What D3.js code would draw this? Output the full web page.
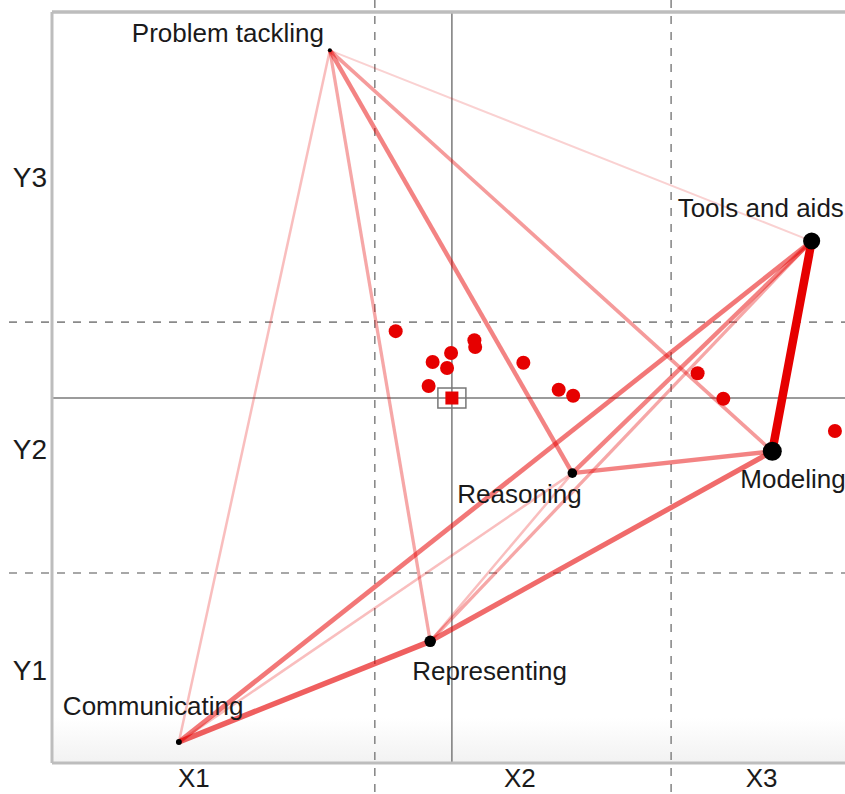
<!DOCTYPE html>
<html>
<head>
<meta charset="utf-8">
<script src="https://cdn.jsdelivr.net/npm/d3@7"></script>
<style>
  html, body { margin: 0; padding: 0; background: #fff; }
  svg { display: block; font-family: "Liberation Sans", Arial, Helvetica, sans-serif; }
</style>
</head>
<body>
<svg id="chart" width="845" height="794"></svg>
<script>
// ---- data ----
const nodeNames = ["Problem tackling", "Tools and aids", "Modeling", "Reasoning", "Representing", "Communicating"];
const nodeX = [3.46, 9.46, 8.97, 6.48, 4.71, 1.58];
const nodeY = [9.49, 6.95, 4.15, 3.86, 1.62, 0.28];
const nodeSize = [1, 8, 9, 4, 5, 2];

const edgeFrom = ["Tools and aids", "Communicating", "Representing", "Communicating", "Reasoning", "Reasoning", "Problem tackling", "Problem tackling", "Problem tackling", "Representing", "Representing", "Communicating", "Problem tackling", "Problem tackling"];
const edgeTo   = ["Modeling", "Representing", "Modeling", "Tools and aids", "Tools and aids", "Modeling", "Reasoning", "Modeling", "Representing", "Tools and aids", "Reasoning", "Reasoning", "Communicating", "Tools and aids"];
const edgeWeight = [10, 6, 5.5, 5, 4.5, 4.5, 4.5, 3.5, 3, 3, 2, 2, 2, 1.2];

const pointX = [4.28, 4.74, 4.97, 4.92, 5.26, 5.27, 4.69, 5.87, 6.31, 6.49, 8.04, 8.36, 9.75];
const pointY = [5.75, 5.34, 5.46, 5.26, 5.63, 5.54, 5.02, 5.33, 4.97, 4.89, 5.19, 4.85, 4.42];
const meanPoint = [4.98, 4.86];

const xCuts = [4.02, 7.71];
const yCuts = [2.53, 5.87];

const xTickValues = [1.76, 5.82, 8.83];
const xTickLabels = ["X1", "X2", "X3"];
const yTickValues = [1.23, 4.18, 7.80];
const yTickLabels = ["Y1", "Y2", "Y3"];

// ---- drawing ----
const W = 845, H = 794;
const L = 52, R = 855, T = 12, B = 763;
const svg = d3.select("#chart");
const x = d3.scaleLinear().domain([0, 10]).range([L, R]);
const y = d3.scaleLinear().domain([0, 10]).range([B, T]);
const widthScale = d3.scaleLinear().domain([1, 10]).range([1.8, 8.5]);
const opacityScale = d3.scaleLinear().domain([1, 10]).range([0.16, 1]);
const red = "#e60000";

// subtle background shading near bottom
const defs = svg.append("defs");
const grad = defs.append("linearGradient").attr("id", "bg").attr("x1", 0).attr("y1", 0).attr("x2", 0).attr("y2", 1);
grad.append("stop").attr("offset", "0%").attr("stop-color", "#ffffff");
grad.append("stop").attr("offset", "94%").attr("stop-color", "#ffffff");
grad.append("stop").attr("offset", "100%").attr("stop-color", "#f2f2f2");
svg.append("rect").attr("x", L).attr("y", T).attr("width", R - L).attr("height", B - T).attr("fill", "url(#bg)");

// dashed cut lines (extend beyond plot)
svg.append("g").selectAll("line").data(xCuts).join("line")
  .attr("x1", d => x(d)).attr("x2", d => x(d)).attr("y1", 0).attr("y2", H)
  .attr("stroke", "#8a8a8a").attr("stroke-width", 1.6).attr("stroke-dasharray", "8,8");
svg.append("g").selectAll("line").data(yCuts).join("line")
  .attr("x1", 9).attr("x2", W).attr("y1", d => y(d)).attr("y2", d => y(d))
  .attr("stroke", "#8a8a8a").attr("stroke-width", 1.6).attr("stroke-dasharray", "8,8");

// mean crosshair
svg.append("line").attr("x1", x(meanPoint[0])).attr("x2", x(meanPoint[0])).attr("y1", T).attr("y2", B)
  .attr("stroke", "#7a7a7a").attr("stroke-width", 1.5);
svg.append("line").attr("x1", L).attr("x2", W).attr("y1", y(meanPoint[1])).attr("y2", y(meanPoint[1]))
  .attr("stroke", "#7a7a7a").attr("stroke-width", 1.5);

// frame
svg.append("line").attr("x1", L).attr("x2", W).attr("y1", T).attr("y2", T).attr("stroke", "#bdbdbd").attr("stroke-width", 3.5);
svg.append("line").attr("x1", L).attr("x2", L).attr("y1", T).attr("y2", B).attr("stroke", "#bdbdbd").attr("stroke-width", 3);
svg.append("line").attr("x1", L).attr("x2", W).attr("y1", B).attr("y2", B).attr("stroke", "#bdbdbd").attr("stroke-width", 3);

// axes
const xAxis = d3.axisBottom(x).tickValues(xTickValues).tickFormat((d, i) => xTickLabels[i]).tickSize(0).tickPadding(6);
const gx = svg.append("g").attr("transform", `translate(0,${B})`).call(xAxis);
gx.select(".domain").remove();
gx.selectAll("text").attr("font-size", 26).attr("fill", "#1a1a1a").attr("font-family", "Liberation Sans, Arial, sans-serif");

const yAxis = d3.axisLeft(y).tickValues(yTickValues).tickFormat((d, i) => yTickLabels[i]).tickSize(0).tickPadding(5);
const gy = svg.append("g").attr("transform", `translate(${L},0)`).call(yAxis);
gy.select(".domain").remove();
gy.selectAll("text").attr("font-size", 28).attr("fill", "#1a1a1a").attr("font-family", "Liberation Sans, Arial, sans-serif");

// edges
const nodeIndex = name => nodeNames.indexOf(name);
const edges = edgeFrom.map((f, i) => ({ a: nodeIndex(f), b: nodeIndex(edgeTo[i]), w: edgeWeight[i] }))
  .sort((p, q) => p.w - q.w);
svg.append("g").selectAll("line").data(edges).join("line")
  .attr("x1", d => x(nodeX[d.a])).attr("y1", d => y(nodeY[d.a]))
  .attr("x2", d => x(nodeX[d.b])).attr("y2", d => y(nodeY[d.b]))
  .attr("stroke", red)
  .attr("stroke-width", d => widthScale(d.w))
  .attr("stroke-opacity", d => opacityScale(d.w));

// points
svg.append("g").selectAll("circle").data(pointX).join("circle")
  .attr("cx", d => x(d)).attr("cy", (d, i) => y(pointY[i])).attr("r", 7).attr("fill", red);

// mean marker
svg.append("rect").attr("x", x(meanPoint[0]) - 14).attr("y", y(meanPoint[1]) - 10).attr("width", 28).attr("height", 20)
  .attr("fill", "none").attr("stroke", "#777").attr("stroke-width", 1.5);
svg.append("rect").attr("x", x(meanPoint[0]) - 6.5).attr("y", y(meanPoint[1]) - 6.5).attr("width", 13).attr("height", 13)
  .attr("fill", red);

// nodes
const rScale = d3.scaleLinear().domain([1, 9]).range([2, 9.5]);
svg.append("g").selectAll("circle").data(nodeNames).join("circle")
  .attr("cx", (d, i) => x(nodeX[i])).attr("cy", (d, i) => y(nodeY[i]))
  .attr("r", (d, i) => rScale(nodeSize[i])).attr("fill", "#000");

// node labels (pixel offsets from node)
const labelOffset = {
  "Problem tackling": [-198, -8],
  "Tools and aids": [-134, -24],
  "Modeling": [-32, 37],
  "Reasoning": [-115, 30],
  "Representing": [-18, 39],
  "Communicating": [-116, -27]
};
svg.append("g").selectAll("text").data(nodeNames).join("text")
  .attr("x", (d, i) => x(nodeX[i]) + labelOffset[d][0])
  .attr("y", (d, i) => y(nodeY[i]) + labelOffset[d][1])
  .attr("font-size", 26).attr("fill", "#1a1a1a")
  .text(d => d);
</script>
</body>
</html>
